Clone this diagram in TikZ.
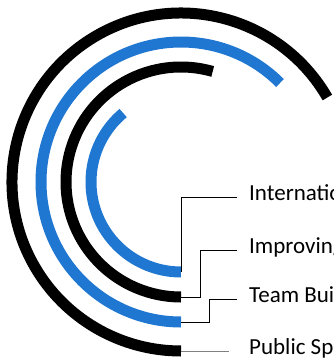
\documentclass[tikz,border=0pt]{standalone}
\usepackage{fontspec}
\setmainfont{Carlito}
\definecolor{ringblue}{HTML}{1F77D2}
\begin{document}
\begin{tikzpicture}[x=1pt,y=1pt,
    ring/.style={line width=11pt},
    lead/.style={draw=black,line width=0.8pt},
    tag/.style={anchor=west,inner sep=0pt,text height=0.644em,text depth=0pt,
      font=\fontsize{23}{27}\selectfont}]
  \clip (0,0) rectangle (334,-360);
  \coordinate (c) at (181,-182);
  \foreach[count=\i] \r/\a/\col in {90/130/ringblue,115/74/black,140/45/ringblue,169/30/black} {
    \draw[ring,\col] (c) ++(\a:\r) arc[start angle=\a,end angle=270,radius=\r];
    \path (c) ++(270:\r) coordinate (e\i);
  }

  \node[tag] (l1) at (249,-197) {International};
  \node[tag] (l2) at (249,-250) {Improving};
  \node[tag] (l3) at (249,-299) {Team Building};
  \node[tag] (l4) at (249,-351) {Public Speaking};

  \draw[lead] (e1) |- ([xshift=-12pt]l1.west);
  \draw[lead] (e2) -- ++(19,0) |- ([xshift=-12pt]l2.west);
  \draw[lead] (e3) -- ++(28,0) |- ([xshift=-12pt]l3.west);
  \draw[lead,draw=gray] (e4) -- ([xshift=-20pt]l4.west);
\end{tikzpicture}
\end{document}
